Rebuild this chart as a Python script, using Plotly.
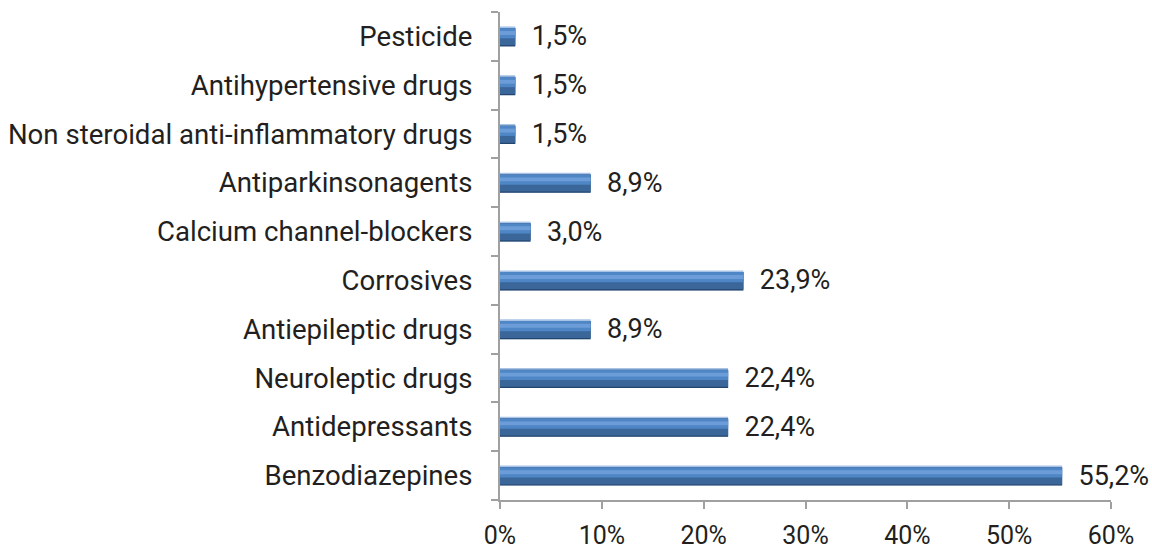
import plotly.graph_objects as go

categories = [
    "Benzodiazepines",
    "Antidepressants",
    "Neuroleptic drugs",
    "Antiepileptic drugs",
    "Corrosives",
    "Calcium channel-blockers",
    "Antiparkinsonagents",
    "Non steroidal anti-inflammatory drugs",
    "Antihypertensive drugs",
    "Pesticide",
]
values = [55.2, 22.4, 22.4, 8.9, 23.9, 3.0, 8.9, 1.5, 1.5, 1.5]
x_ticks = [0, 10, 20, 30, 40, 50, 60]
x_tick_labels = ["0%", "10%", "20%", "30%", "40%", "50%", "60%"]

labels = ["\u00a0\u00a0" + f"{v:.1f}".replace(".", ",") + "%" for v in values]

FONT = "Roboto, sans-serif"
TXT = "#231f20"

fig = go.Figure()
# layered bars to imitate the bevelled gradient
layers = [
    dict(color="#a9c3e6", width=0.41, offset=-0.205, text=True),
    dict(color="#24456d", width=0.375, offset=-0.205, text=False),
    dict(color="#3a6699", width=0.345, offset=-0.18, text=False),
    dict(color="#4f86c6", width=0.21, offset=-0.04, text=False),
    dict(color="#6c9dd8", width=0.08, offset=0.03, text=False),
]
for L in layers:
    fig.add_trace(go.Bar(
        y=categories, x=values, orientation="h",
        width=L["width"], offset=L["offset"],
        marker=dict(color=L["color"], line=dict(width=0)),
        text=labels if L["text"] else None,
        textposition="outside" if L["text"] else "none",
        constraintext="none",
        textfont=dict(family=FONT, size=27, color=TXT),
        cliponaxis=False,
        showlegend=False,
        hoverinfo="skip",
    ))

fig.update_layout(
    barmode="overlay",
    width=1152, height=554,
    margin=dict(l=500, r=41, t=12, b=54),
    paper_bgcolor="white", plot_bgcolor="white",
    font=dict(family=FONT, size=27, color=TXT),
)
fig.update_xaxes(
    range=[0, 60], tickvals=x_ticks, ticktext=x_tick_labels,
    showgrid=False, zeroline=False, automargin=False,
    showline=True, linecolor="#a0a0a0", linewidth=2,
    ticks="outside", ticklen=7, tickcolor="#a0a0a0", tickwidth=2,
    ticklabelstandoff=5,
    tickfont=dict(family=FONT, size=25, color=TXT),
)
fig.update_yaxes(
    type="category", categoryorder="array", categoryarray=categories,
    range=[-0.5, 9.5],
    showgrid=False, zeroline=False, automargin=False,
    showline=True, linecolor="#a0a0a0", linewidth=2,
    ticks="outside", tickson="boundaries", ticklen=7, tickcolor="#a0a0a0", tickwidth=2,
    ticklabelstandoff=20,
    tickfont=dict(family=FONT, size=27.6, color=TXT),
)

fig.write_html("out.html")
